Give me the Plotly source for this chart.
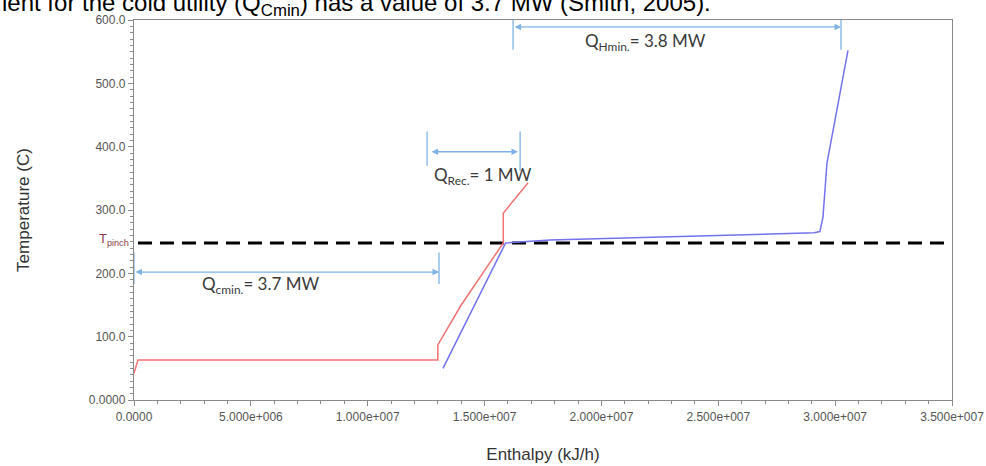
import plotly.graph_objects as go

# ---- data ----
hot_H = [0.0, 0.17e6, 13.0e6, 13.0e6, 14.0e6, 15.8e6, 15.8e6, 16.86e6]
hot_T = [42, 63, 63, 87, 150, 248, 295, 343]

cold_H = [13.22e6, 15.9e6, 17.8e6, 29.1e6, 29.35e6, 29.48e6, 29.65e6, 30.55e6]
cold_T = [50, 248, 252.5, 264, 266, 289, 374, 552]

T_pinch = 248
pinch_H = [0.17e6, 34.8e6]

x_tickvals = [0, 5e6, 10e6, 15e6, 20e6, 25e6, 30e6, 35e6]
x_ticktext = ["0.0000", "5.000e+006", "1.000e+007", "1.500e+007",
              "2.000e+007", "2.500e+007", "3.000e+007", "3.500e+007"]
y_tickvals = [0, 100, 200, 300, 400, 500, 600]
y_ticktext = ["0.0000", "100.0", "200.0", "300.0", "400.0", "500.0", "600.0"]

# utility / recovery spans (H start, H end, arrow T, bar T low, bar T high)
qcmin_span = [0.0, 13.05e6]
qcmin_T = 202
qcmin_bar = [183, 233]
qrec_span = [12.67e6, 16.43e6]
qrec_T = 392
qrec_bars_H = [12.54e6, 16.52e6]
qrec_bar = [370, 424]
qhmin_span = [16.22e6, 30.25e6]
qhmin_T = 589
qhmin_bar = [553, 600]

labels = [
    ("Q<sub>cmin.</sub>= 3.7 MW", 5.4e6, 181),
    ("Q<sub>Rec.</sub>= 1 MW", 14.93e6, 354),
    ("Q<sub>Hmin.</sub>= 3.8 MW", 21.9e6, 565),
]

HOT_C = "#f07272"
COLD_C = "#7272ee"
ARROW_C = "#7fb2e5"

fig = go.Figure()
fig.add_trace(go.Scatter(x=pinch_H, y=[T_pinch, T_pinch], mode="lines",
                         line=dict(color="black", width=3, dash="14px,8px"),
                         hoverinfo="skip", showlegend=False))
fig.add_trace(go.Scatter(x=hot_H, y=hot_T, mode="lines",
                         line=dict(color=HOT_C, width=1.5), showlegend=False))
fig.add_trace(go.Scatter(x=cold_H, y=cold_T, mode="lines",
                         line=dict(color=COLD_C, width=1.5), showlegend=False))

ann = []
shapes = []

def double_arrow(h0, h1, t):
    ann.append(dict(x=h1, y=t, ax=h0, ay=t, xref="x", yref="y", axref="x", ayref="y",
                    text="", showarrow=True, arrowhead=2, startarrowhead=2,
                    arrowside="end+start", arrowsize=1, arrowwidth=1.3,
                    arrowcolor=ARROW_C))

def vbar(h, t0, t1):
    shapes.append(dict(type="line", xref="x", yref="y", x0=h, x1=h, y0=t0, y1=t1,
                       line=dict(color=ARROW_C, width=1.3)))

double_arrow(qcmin_span[0], qcmin_span[1], qcmin_T)
vbar(qcmin_span[0], qcmin_bar[0], qcmin_bar[1])
vbar(qcmin_span[1], qcmin_bar[0], qcmin_bar[1])

double_arrow(qrec_span[0], qrec_span[1], qrec_T)
vbar(qrec_bars_H[0], qrec_bar[0], qrec_bar[1])
vbar(qrec_bars_H[1], qrec_bar[0] - 8, qrec_bar[1])

double_arrow(qhmin_span[0], qhmin_span[1], qhmin_T)
vbar(qhmin_span[0], qhmin_bar[0], qhmin_bar[1])
vbar(qhmin_span[1], qhmin_bar[0], qhmin_bar[1])

for txt, h, t in labels:
    ann.append(dict(x=h, y=t, xref="x", yref="y", text=txt, showarrow=False,
                    font=dict(family="Lato", size=17, color="#3a3a3a")))

ann.append(dict(x=-0.004, y=T_pinch + 5, xref="paper", yref="y", xanchor="right",
                text="T<sub>pinch</sub>", showarrow=False,
                font=dict(family="Liberation Sans", size=13, color="#8a3c4c")))

ann.append(dict(x=-134 / 818, xref="paper", xanchor="left",
                y=1 - 2 / 380, yref="paper", yanchor="bottom",
                text="ient for the cold utility (Q<sub>Cmin</sub>) has a value of 3.7 MW (Smith, 2005).",
                showarrow=False,
                font=dict(family="Liberation Sans", size=24, color="black")))

axis_common = dict(showline=True, linecolor="#8a8a8a", linewidth=1.3, mirror=True,
                   ticks="outside", ticklen=5, tickcolor="#8a8a8a",
                   showgrid=False, zeroline=False, automargin=False,
                   tickfont=dict(family="Liberation Sans", size=12, color="#555555"),
                   title_font=dict(family="Liberation Sans", size=17, color="#333333"))

fig.update_layout(
    width=986, height=466, autosize=False,
    margin=dict(l=134, r=34, t=20, b=66),
    plot_bgcolor="white", paper_bgcolor="white",
    xaxis=dict(range=[0, 35e6], tickvals=x_tickvals, ticktext=x_ticktext,
               minor=dict(dtick=1e6, ticks="outside", ticklen=3, tickcolor="#8a8a8a"),
               title=dict(text="Enthalpy (kJ/h)", standoff=25), **axis_common),
    yaxis=dict(range=[0, 600], tickvals=y_tickvals, ticktext=y_ticktext,
               minor=dict(dtick=10, ticks="outside", ticklen=3, tickcolor="#8a8a8a"),
               title=dict(text="Temperature (C)", standoff=54), **axis_common),
    annotations=ann, shapes=shapes,
)

fig.write_html("out.html")
